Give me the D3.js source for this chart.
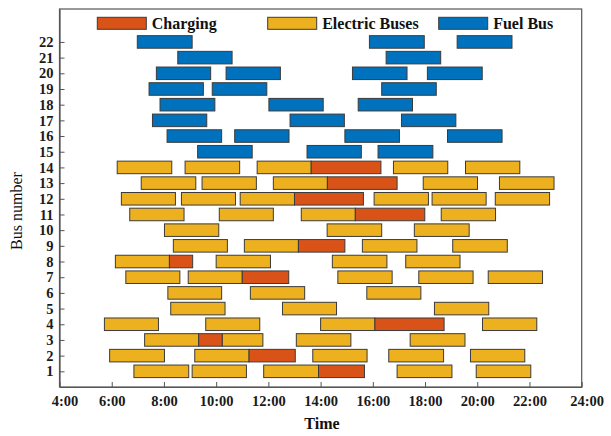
<!DOCTYPE html>
<html><head><meta charset="utf-8">
<script src="https://cdn.jsdelivr.net/npm/d3@7"></script>
<style>body{margin:0;background:#fff}</style>
</head><body>
<svg id="chart" width="611" height="436"></svg>
<script>
const buses = d3.range(1, 23);
const xTickHours = [4,6,8,10,12,14,16,18,20,22,24];
const xTickLabels = ["4:00","6:00","8:00","10:00","12:00","14:00","16:00","18:00","20:00","22:00","24:00"];
const legendLabels = ["Charging","Electric Buses","Fuel Bus"];

// [bus, start hour, end hour]
const fuelTrips = [
 [22,6.98,9.08],[22,15.87,17.97],[22,19.23,21.33],
 [21,8.53,10.61],[21,16.51,18.6],
 [20,7.71,9.79],[20,10.38,12.46],[20,15.22,17.31],[20,18.09,20.19],
 [19,7.43,9.51],[19,9.85,11.94],[19,16.34,18.43],
 [18,7.85,9.95],[18,12.02,14.1],[18,15.44,17.52],
 [17,7.56,9.64],[17,12.83,14.91],[17,17.1,19.18],
 [16,8.12,10.21],[16,10.71,12.79],[16,14.93,17.02],[16,18.86,20.95],
 [15,9.29,11.38],[15,13.48,15.56],[15,16.2,18.3]
];
const electricTrips = [
 [14,6.21,8.3],[14,8.81,10.9],[14,11.57,13.64],[14,16.79,18.87],[14,19.55,21.63],
 [13,7.13,9.22],[13,9.46,11.54],[13,12.19,14.26],[13,17.93,20.01],[13,20.85,22.94],
 [12,6.37,8.44],[12,8.67,10.74],[12,10.92,13.0],[12,16.05,18.13],[12,18.27,20.34],[12,20.69,22.77],
 [11,6.69,8.77],[11,10.12,12.19],[11,13.26,15.33],[11,18.62,20.7],
 [10,8.02,10.1],[10,14.25,16.34],[10,17.59,19.69],
 [9,8.36,10.43],[9,11.08,13.15],[9,15.6,17.69],[9,19.06,21.15],
 [8,6.14,8.21],[8,10.0,12.08],[8,14.45,16.54],[8,17.26,19.34],
 [7,6.54,8.61],[7,8.93,11.0],[7,14.66,16.74],[7,17.76,19.84],[7,20.42,22.5],
 [6,8.15,10.21],[6,11.31,13.39],[6,15.77,17.84],
 [5,8.26,10.34],[5,12.54,14.61],[5,18.36,20.44],
 [4,5.72,7.79],[4,9.6,11.67],[4,14.0,16.08],[4,20.2,22.28],
 [3,7.26,9.33],[3,10.23,11.79],[3,13.07,15.16],[3,17.43,19.53],
 [2,5.92,8.02],[2,9.18,11.26],[2,13.7,15.78],[2,16.61,18.71],[2,19.74,21.82],
 [1,6.85,8.95],[1,9.08,11.16],[1,11.82,13.92],[1,16.93,19.03],[1,19.96,22.05]
];
const chargingPeriods = [
 [14,13.64,16.31],[13,14.26,16.93],[12,13.0,15.64],[11,15.33,17.99],
 [9,13.15,14.93],[8,8.21,9.1],[7,11.0,12.78],[4,16.08,18.73],
 [3,9.33,10.23],[2,11.26,13.03],[1,13.92,15.68]
];
const colors = {charging:"#D95319", electric:"#EDB120", fuel:"#0072BD"};

const svg = d3.select("#chart");
const L = 59.5, R = 581.7, T = 9, B = 387;
const x = d3.scaleLinear().domain([4,24]).range([L,R]);
const y = d3.scaleLinear().domain([0,24.1]).range([B,T]);
const bh = 0.8;
const font = "'Liberation Serif','Times New Roman',serif";

function drawBars(data, color){
  svg.append("g").selectAll("rect").data(data).enter().append("rect")
    .attr("x", d=>x(d[1])).attr("width", d=>x(d[2])-x(d[1]))
    .attr("y", d=>y(d[0]+bh/2)).attr("height", d=>y(d[0]-bh/2)-y(d[0]+bh/2))
    .attr("fill", color).attr("stroke","#3b3b3b").attr("stroke-width",1);
}
drawBars(fuelTrips, colors.fuel);
drawBars(electricTrips, colors.electric);
drawBars(chargingPeriods, colors.charging);

// frame
svg.append("rect").attr("x",L).attr("y",T).attr("width",R-L).attr("height",B-T)
  .attr("fill","none").attr("stroke","#555").attr("stroke-width",1.2);

// axes
const xAxis = d3.axisBottom(x).tickValues(xTickHours).tickFormat((d,i)=>xTickLabels[i]).tickSizeInner(-5).tickSizeOuter(0).tickPadding(9);
const gx = svg.append("g").attr("transform",`translate(0,${B})`).call(xAxis);
const yAxis = d3.axisLeft(y).tickValues(buses).tickFormat(d3.format("d")).tickSizeInner(-5).tickSizeOuter(0).tickPadding(6);
const gy = svg.append("g").attr("transform",`translate(${L},0)`).call(yAxis);
[gx,gy].forEach(g=>{
  g.select(".domain").attr("stroke","#555").attr("stroke-width",1.2);
  g.selectAll(".tick line").attr("stroke","#555");
  g.selectAll(".tick text").attr("font-family",font).attr("font-size",14.5).attr("font-weight","bold").attr("fill","#1a1a1a");
});
gx.selectAll(".tick text").filter(d=>d===4).attr("dx",5);
gx.selectAll(".tick text").filter(d=>d===24).attr("dx",5);

// axis titles
svg.append("text").attr("x",322).attr("y",429).attr("text-anchor","middle")
  .attr("font-family",font).attr("font-size",16).attr("font-weight","bold").attr("fill","#111").text("Time");
svg.append("text").attr("transform","translate(22,211) rotate(-90)").attr("text-anchor","middle")
  .attr("font-family",font).attr("font-size",16).attr("fill","#111").text("Bus number");

// legend
const legendColors = [colors.charging, colors.electric, colors.fuel];
const legendX = [97.3, 267.7, 438.7];
legendLabels.forEach((lab,i)=>{
  svg.append("rect").attr("x",legendX[i]).attr("y",17.3).attr("width",49).attr("height",12)
    .attr("fill",legendColors[i]).attr("stroke","#3b3b3b").attr("stroke-width",1);
  svg.append("text").attr("x",legendX[i]+54.5).attr("y",28.5).attr("font-family",font)
    .attr("font-size",16).attr("font-weight","bold").attr("fill","#111").text(lab);
});
</script>
</body></html>
